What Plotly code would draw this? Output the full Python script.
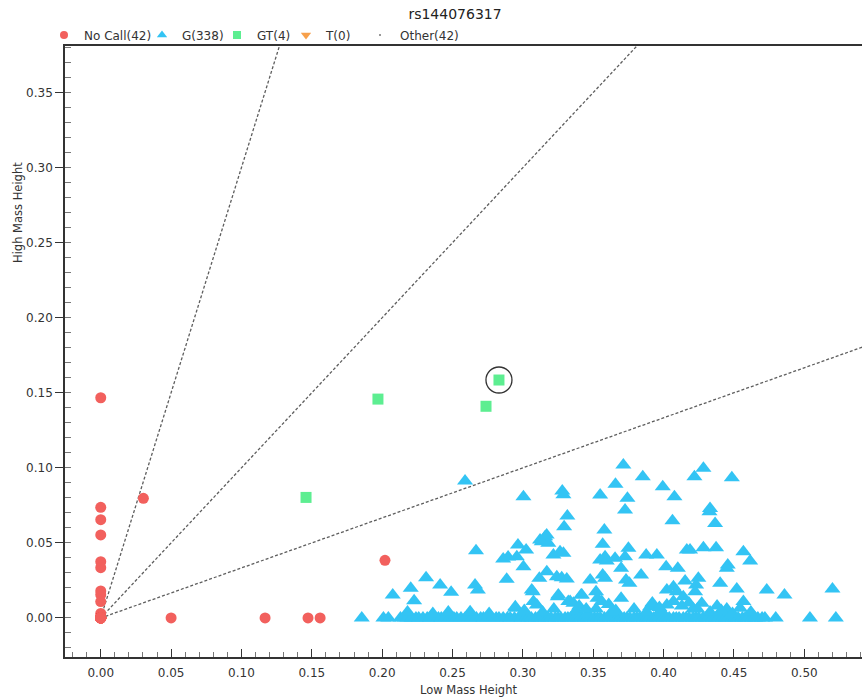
import plotly.graph_objects as go

# ---------------- data ----------------
title_text = "rs144076317"
x_label = "Low Mass Height"
y_label = "High Mass Height"

legend_names = ["No Call(42)", "G(338)", "GT(4)", "T(0)", "Other(42)"]

# No Call (red circles)
nocall_x = [0.0, 0.0, 0.0, 0.0, 0.0, 0.0, 0.0, 0.0, 0.0, 0.0, 0.0,
            0.0303, 0.050, 0.1168, 0.1473, 0.1559, 0.2020,
            0.0, 0.0, 0.0, 0.0, 0.0, 0.0, 0.0, 0.0, 0.0, 0.0, 0.0, 0.0,
            0.0, 0.0, 0.0, 0.0, 0.0, 0.0, 0.0, 0.0, 0.0, 0.0, 0.0, 0.0, 0.0]
nocall_y = [0.1467, 0.0737, 0.0655, 0.0553, 0.0375, 0.0335, 0.0180, 0.0155, 0.0109, 0.0030, 0.0010,
            0.0797, 0.0, 0.0, 0.0, 0.0, 0.0384,
            0.0, 0.0, 0.0, 0.0, 0.0, 0.0, 0.0, 0.0, 0.0, 0.0, 0.0, 0.0,
            0.0, 0.0, 0.0, 0.0, 0.0, 0.0, 0.0, 0.0, 0.0, 0.0, 0.0, 0.0, 0.0]

# G (blue triangles) - scattered points above the baseline
g_scatter_x = [0.2589, 0.2667, 0.2860, 0.2895, 0.2965, 0.2312, 0.2412, 0.2490, 0.2203, 0.2227,
               0.2075, 0.2660, 0.2680, 0.2885, 0.1855, 0.2009, 0.2044,
               0.3714, 0.3852, 0.3658, 0.3994, 0.3004, 0.3280, 0.3288, 0.3549, 0.3743,
               0.4077, 0.3726, 0.3316, 0.3293, 0.4063, 0.3579, 0.3158, 0.3134, 0.3181,
               0.3023, 0.2957, 0.3004, 0.3217, 0.3264, 0.3288, 0.3567, 0.3549, 0.3584,
               0.3596, 0.3655, 0.3750, 0.3726, 0.3876, 0.3952, 0.4165, 0.3698, 0.3840,
               0.4018, 0.4101, 0.3170, 0.3117, 0.3241, 0.3276, 0.3312, 0.3478, 0.3567,
               0.3584, 0.3733, 0.3757, 0.4153, 0.3063, 0.3248, 0.3414, 0.3520, 0.3530,
               0.3560, 0.3698, 0.4023, 0.4070, 0.4094, 0.4140, 0.3323, 0.3359, 0.3075,
               0.3099, 0.3904, 0.4023, 0.2945,
               0.4283, 0.4219, 0.4485, 0.4330, 0.4326, 0.4366, 0.4188, 0.4283, 0.4373,
               0.4567, 0.4615, 0.4456, 0.4449, 0.4247, 0.4231, 0.4224, 0.4402, 0.4520,
               0.4733, 0.4859, 0.5200, 0.4271, 0.4567, 0.4544, 0.4449, 0.4797, 0.5040, 0.5224,
               0.3122, 0.3169, 0.3252, 0.3336, 0.3419, 0.3070,
               0.218, 0.236, 0.247, 0.2625, 0.276, 0.2946, 0.301, 0.314, 0.322, 0.338,
               0.346, 0.352, 0.363, 0.379, 0.388, 0.398, 0.407, 0.421, 0.433, 0.441, 0.449, 0.462,
               0.340, 0.345, 0.361, 0.366, 0.392, 0.397, 0.413, 0.418, 0.424, 0.438]
g_scatter_y = [0.0912, 0.0448, 0.0393, 0.0406, 0.0486, 0.0268, 0.0220, 0.0171, 0.0198, 0.0115,
               0.0153, 0.0220, 0.0186, 0.0258, 0.0, 0.0, 0.0,
               0.1019, 0.0940, 0.0890, 0.0874, 0.0808, 0.0845, 0.0820, 0.0819, 0.0797,
               0.0808, 0.0719, 0.0679, 0.0608, 0.0648, 0.0586, 0.0541, 0.0508, 0.0497,
               0.0453, 0.0408, 0.0342, 0.0419, 0.0441, 0.0431, 0.0491, 0.0386, 0.0408,
               0.0380, 0.0397, 0.0464, 0.0408, 0.0419, 0.0419, 0.0453, 0.0331, 0.0286,
               0.0342, 0.0331, 0.0308, 0.0264, 0.0275, 0.0268, 0.0260, 0.0253, 0.0286,
               0.0264, 0.0253, 0.0231, 0.0246, 0.0186, 0.0142, 0.0153, 0.0175, 0.0131,
               0.0109, 0.0131, 0.0186, 0.0208, 0.0175, 0.0142, 0.0109, 0.0098, 0.0109,
               0.0087, 0.0075, 0.0087, 0.0065,
               0.0997, 0.0941, 0.0934, 0.0730, 0.0708, 0.0630, 0.0453, 0.0468, 0.0468,
               0.0441, 0.0380, 0.0353, 0.0331, 0.0264, 0.0220, 0.0175, 0.0231, 0.0193,
               0.0186, 0.0153, 0.0193, 0.0098, 0.0109, 0.0065, 0.0060, 0.0, 0.0, 0.0,
               0.0519, 0.0553, 0.0153, 0.0109, 0.0153, 0.0175,
               0.004, 0.003, 0.004, 0.0042, 0.003, 0.0075, 0.005, 0.004, 0.006, 0.005,
               0.003, 0.006, 0.004, 0.006, 0.004, 0.005, 0.011, 0.006, 0.004, 0.005, 0.003, 0.004,
               0.008, 0.006, 0.009, 0.005, 0.010, 0.007, 0.008, 0.010, 0.006, 0.008]

# G (blue triangles) - dense baseline row
g_base_x = [0.213, 0.216, 0.218, 0.221, 0.224, 0.226, 0.229, 0.232, 0.234, 0.237, 0.240, 0.242,
            0.245, 0.248, 0.251, 0.253, 0.256, 0.259, 0.262, 0.264, 0.267, 0.270, 0.272, 0.275,
            0.278, 0.281, 0.283, 0.286, 0.289, 0.291, 0.294, 0.297, 0.299, 0.302, 0.304, 0.306,
            0.309, 0.311, 0.313, 0.316, 0.318, 0.320, 0.323, 0.325, 0.327, 0.330, 0.332, 0.334,
            0.337, 0.339, 0.341, 0.344, 0.346, 0.348, 0.351, 0.353, 0.355, 0.358, 0.360, 0.362,
            0.365, 0.367, 0.369, 0.372, 0.374, 0.376, 0.379, 0.381, 0.383, 0.386, 0.388, 0.390,
            0.393, 0.395, 0.397, 0.400, 0.402, 0.404, 0.407, 0.409, 0.411, 0.414, 0.416, 0.418,
            0.421, 0.423, 0.425, 0.428, 0.430, 0.432, 0.435, 0.437, 0.439, 0.442, 0.444, 0.446,
            0.449, 0.451, 0.453, 0.456, 0.458, 0.460, 0.463, 0.465, 0.467, 0.470, 0.472]
g_base_y = [0.0, 0.0, 0.0, 0.0, 0.0, 0.0, 0.0, 0.0, 0.0, 0.0, 0.0, 0.0,
            0.0, 0.0, 0.0, 0.0, 0.0, 0.0, 0.0, 0.0, 0.0, 0.0, 0.0, 0.0,
            0.0, 0.0, 0.0, 0.0, 0.0, 0.0, 0.0, 0.0, 0.0, 0.0, 0.0, 0.0,
            0.0, 0.0, 0.0, 0.0, 0.0, 0.0, 0.0, 0.0, 0.0, 0.0, 0.0, 0.0,
            0.0, 0.0, 0.0, 0.0, 0.0, 0.0, 0.0, 0.0, 0.0, 0.0, 0.0, 0.0,
            0.0, 0.0, 0.0, 0.0, 0.0, 0.0, 0.0, 0.0, 0.0, 0.0, 0.0, 0.0,
            0.0, 0.0, 0.0, 0.0, 0.0, 0.0, 0.0, 0.0, 0.0, 0.0, 0.0, 0.0,
            0.0, 0.0, 0.0, 0.0, 0.0, 0.0, 0.0, 0.0, 0.0, 0.0, 0.0, 0.0,
            0.0, 0.0, 0.0, 0.0, 0.0, 0.0, 0.0, 0.0, 0.0, 0.0, 0.0]

# GT (green squares)
gt_x = [0.1459, 0.1970, 0.2738, 0.2830]
gt_y = [0.0803, 0.1458, 0.1410, 0.1585]
highlight_index = 3

# Cluster guide lines through the origin (slopes)
guide_slopes = [3.0, 1.0, 1.0 / 3.0]

x_range = [-0.0254, 0.541]
y_range = [-0.026, 0.381]

# ---------------- style ----------------
RED = "#F2605D"
BLUE = "#33C4F4"
GREEN = "#5DEE91"
ORANGE = "#F7A04B"
AX = "#333333"
FONT = "DejaVu Sans"

W, H = 862, 700
ML, MR, MT, MB = 65, 0, 46, 43
pw, ph = W - ML - MR, H - MT - MB

fig = go.Figure()

# guide lines
for s in guide_slopes:
    fig.add_trace(go.Scatter(
        x=[0.0, 1.0], y=[0.0, s * 1.0], mode="lines",
        line=dict(color="#5e5e5e", width=1.3, dash="3px,2px"),
        showlegend=False, hoverinfo="skip"))

fig.add_trace(go.Scatter(
    x=g_base_x + g_scatter_x, y=g_base_y + g_scatter_y, mode="markers",
    marker=dict(symbol="triangle-up", size=14, color=BLUE, line=dict(width=0)),
    showlegend=False))
fig.add_trace(go.Scatter(
    x=nocall_x, y=nocall_y, mode="markers",
    marker=dict(symbol="circle", size=11, color=RED, line=dict(width=0)),
    showlegend=False))
fig.add_trace(go.Scatter(
    x=gt_x, y=gt_y, mode="markers",
    marker=dict(symbol="square", size=11, color=GREEN, line=dict(width=0)),
    showlegend=False))

# legend-only entries, one small legend per entry so each sits where the reference has it
legend_styles = [
    dict(symbol="circle", size=8, color=RED),
    dict(symbol="triangle-up", size=9, color=BLUE),
    dict(symbol="square", size=8, color=GREEN),
    dict(symbol="triangle-down", size=9, color=ORANGE),
    dict(symbol="circle", size=2, color="#777777"),
]
legend_left_px = [44, 142, 217, 286, 360]
legend_layouts = {}
for i, (name, st) in enumerate(zip(legend_names, legend_styles)):
    lid = "legend" if i == 0 else "legend%d" % (i + 1)
    fig.add_trace(go.Scatter(x=[None], y=[None], mode="markers", name=name,
                             marker=dict(line=dict(width=0), **st), showlegend=True,
                             legend=lid))
    legend_layouts[lid] = dict(
        orientation="h", x=(legend_left_px[i] - ML) / pw, xanchor="left",
        y=(H - MB - 35) / ph, yanchor="middle",
        font=dict(family=FONT, size=12, color="#333333"),
        itemwidth=30, bgcolor="rgba(0,0,0,0)", borderwidth=0)

# highlight circle around a GT point
fig.add_shape(type="circle", xref="x", yref="y", xsizemode="pixel", ysizemode="pixel",
              xanchor=gt_x[highlight_index], yanchor=gt_y[highlight_index],
              x0=-13, x1=13, y0=-13, y1=13, line=dict(color="#333333", width=1.3))

fig.add_annotation(text=y_label, xref="paper", yref="paper",
                   x=(18 - ML) / pw, y=(H - MB - 213) / ph, textangle=-90,
                   showarrow=False, font=dict(family=FONT, size=11.5, color="#333333"),
                   xanchor="center", yanchor="middle")
fig.add_annotation(text=x_label, xref="paper", yref="paper",
                   x=(468 - ML) / pw, y=(H - MB - 690) / ph,
                   showarrow=False, font=dict(family=FONT, size=11.5, color="#333333"),
                   xanchor="center", yanchor="middle")

fig.update_layout(
    width=W, height=H, autosize=False,
    margin=dict(l=ML, r=MR, t=MT, b=MB),
    paper_bgcolor="white", plot_bgcolor="white",
    title=dict(text=title_text, x=455 / W, xanchor="center", y=1 - 14 / H, yanchor="middle",
               font=dict(family=FONT, size=14, color="#222222")),
    font=dict(family=FONT, size=12, color="#333333"),
    showlegend=True,
    **legend_layouts,
)

fig.update_xaxes(range=x_range, showgrid=False, zeroline=False,
                 showline=True, linecolor=AX, linewidth=1.6, mirror=True,
                 ticks="inside", ticklen=8, tickwidth=1.3, tickcolor=AX,
                 tick0=0, dtick=0.05, tickformat=".2f", ticklabelstandoff=4,
                 minor=dict(dtick=0.01, ticks="inside", ticklen=5, tickcolor="#777777", tickwidth=1),
                 tickfont=dict(family=FONT, size=12, color="#333333"))
fig.update_yaxes(range=y_range, showgrid=False, zeroline=False,
                 showline=True, linecolor=AX, linewidth=1.6, mirror=False,
                 ticks="outside", ticklen=8, tickwidth=1.3, tickcolor=AX,
                 tick0=0, dtick=0.05, tickformat=".2f",
                 minor=dict(dtick=0.01, ticks="inside", ticklen=6, tickcolor="#777777", tickwidth=1),
                 tickfont=dict(family=FONT, size=12, color="#333333"))

fig.write_html("out.html")
